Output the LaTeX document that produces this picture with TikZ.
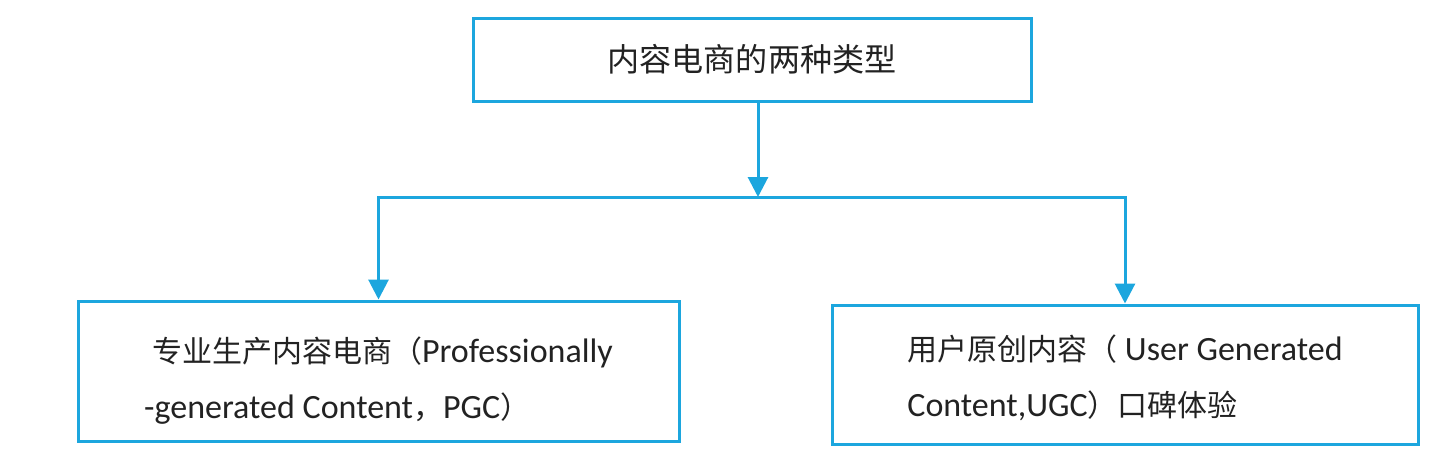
\documentclass[tikz,border=0pt]{standalone}
\usepackage{fontspec}
\setmainfont{Carlito}
\newfontfamily\cjk{Noto Sans CJK SC}[Scale=0.882]
\usetikzlibrary{arrows.meta,positioning}
\definecolor{linkblue}{RGB}{28,166,222}
\definecolor{inkgray}{RGB}{34,34,34}

\begin{document}
\begin{tikzpicture}[x=0.5pt, y=-0.5pt, >={Triangle[length=10pt,width=10pt]},
  box/.style={draw=linkblue, line width=1.5pt, text=inkgray, inner sep=0pt},
  link/.style={draw=linkblue, line width=1.5pt, ->}]
\useasboundingbox (0,0) rectangle (1440,461);
\node[box, minimum width=279pt, minimum height=41.5pt, font=\cjk\fontsize{18.2}{20}\selectfont] (kinds) at (752,59.5) {内容电商的两种类型};
\node[box, minimum width=300.5pt, minimum height=70pt, align=left, font=\fontsize{17}{28}\selectfont] (pgc) at (378.5,371)
  {\rule{0pt}{22pt}\hspace*{4pt}{\cjk 专业生产内容电商（}Professionally\\-generated Content{\cjk ，}PGC{\cjk ）}};
\node[box, minimum width=293pt, minimum height=69.5pt, align=left, font=\fontsize{17}{28}\selectfont] (ugc) at (1125,374.5)
  {\rule{0pt}{16pt}{\cjk 用户原创内容（} User Generated\\Content,UGC{\cjk ）口碑体验}};
\coordinate (split) at (758,197);
\draw[link] (kinds.south -| split) -- (split);
\draw[link] (split) -| (pgc);
\draw[link] (split) -| (ugc);
\end{tikzpicture}
\end{document}
